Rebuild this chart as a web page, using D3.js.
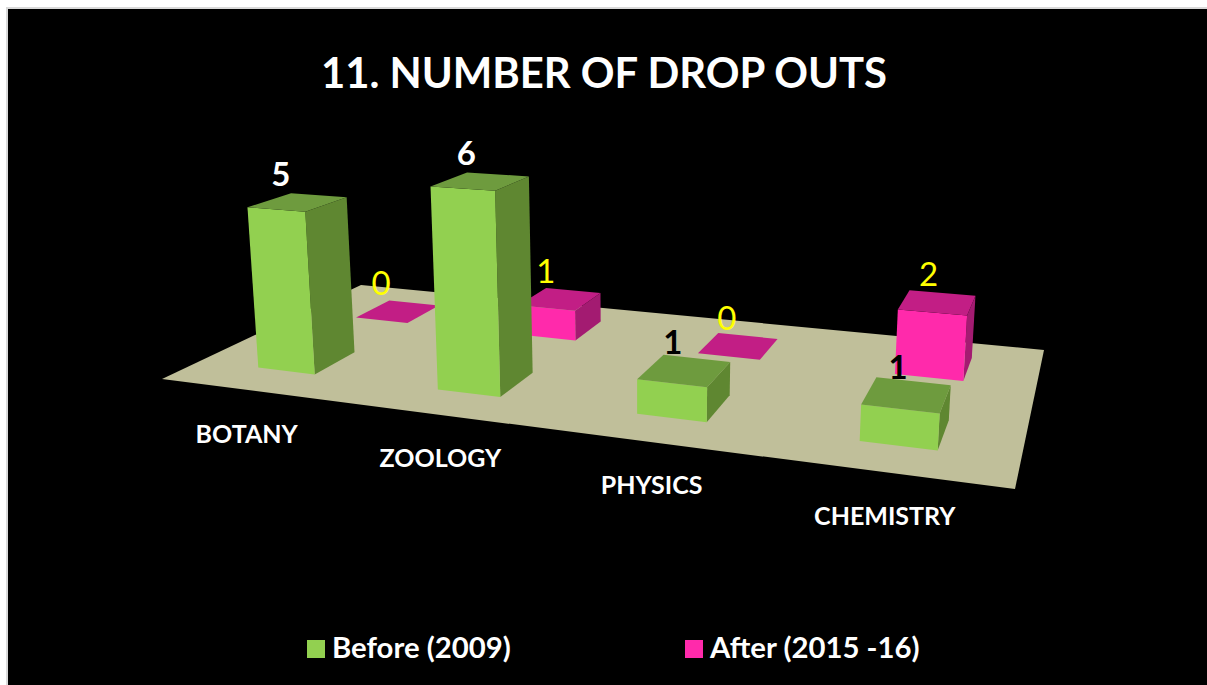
<!DOCTYPE html>
<html>
<head>
<meta charset="utf-8">
<title>11. NUMBER OF DROP OUTS</title>
<script src="https://cdnjs.cloudflare.com/ajax/libs/d3/7.8.5/d3.min.js"></script>
<style>
	html, body { margin: 0; padding: 0; background: #fff; }
	svg { display: block; }
	text { font-family: Lato, "Open Sans", sans-serif; }
</style>
</head>
<body>
<svg id="chart" width="1207" height="685"></svg>
<script>
'use strict'

const title = '11. NUMBER OF DROP OUTS'
const categories = ['BOTANY', 'ZOOLOGY', 'PHYSICS', 'CHEMISTRY']
const series = ['Before (2009)', 'After (2015 -16)']
const before = [5, 6, 1, 1]
const after = [0, 1, 0, 2]

const width = 1207
const height = 685

// floor corners on screen: front-left, front-right, back-right, back-left
const floor = [[162, 379], [1015, 489], [1044, 350], [361, 285]]

// the category labels do not follow the floor exactly
const labelNudge = [-2.5, 2.5, 3, -0.5]

const colors = {
	'Before (2009)': { front: '#92d050', top: '#6e9b3e', side: '#5f8731' },
	'After (2015 -16)': { front: '#ff2aab', top: '#c21e85', side: '#a31b71' }
}

const svg = d3.select('#chart')

// plane to quad mapping for the floor
function floorMatrix(q) {
	const [[x0, y0], [x1, y1], [x2, y2], [x3, y3]] = q
	const dx1 = x1 - x2, dx2 = x3 - x2, sx = x0 - x1 + x2 - x3
	const dy1 = y1 - y2, dy2 = y3 - y2, sy = y0 - y1 + y2 - y3
	const den = dx1 * dy2 - dx2 * dy1
	const g = (sx * dy2 - dx2 * sy) / den
	const h = (dx1 * sy - sx * dy1) / den
	return {
		a: x1 - x0 + g * x1, b: x3 - x0 + h * x3, c: x0,
		d: y1 - y0 + g * y1, e: y3 - y0 + h * y3, f: y0,
		g: g, h: h
	}
}

const m = floorMatrix(floor)

// verticals lean towards a vanishing point far below the chart
const vanish = { x: 640, y: 6000 }

function project(u, v, z) {
	const k = -z / vanish.y
	const w = m.g * u + m.h * v + 1 + k
	return [
		(m.a * u + m.b * v + m.c + k * vanish.x) / w,
		(m.d * u + m.e * v + m.f - z) / w
	]
}

const xScale = d3.scaleBand().domain(categories).range([0.001, 1.001]).paddingInner(0.675).paddingOuter(0.3375)
const depthScale = d3.scaleBand().domain(series).range([0.0125, 1.0125]).paddingInner(0.6).paddingOuter(0.3)
const heightScale = d3.scaleLinear().domain([0, 6]).range([0, 204])
const legendX = d3.scaleOrdinal().domain(series).range([307, 685])

const polygon = d3.line()

function face(g, points, fill) {
	g.append('path')
		.attr('d', polygon(points) + 'Z')
		.attr('fill', fill)
}

// background and title
svg.append('rect')
	.attr('x', 6).attr('y', 7)
	.attr('width', width - 6).attr('height', height - 7)
	.attr('fill', '#d9d9d9')

svg.append('rect')
	.attr('x', 8).attr('y', 9)
	.attr('width', width - 8).attr('height', height - 9)
	.attr('fill', '#000')

svg.append('text')
	.attr('x', 604).attr('y', 88)
	.attr('text-anchor', 'middle')
	.attr('font-size', 41.8)
	.attr('font-weight', 700)
	.attr('fill', '#fff')
	.text(title)

svg.append('path')
	.attr('d', polygon(floor) + 'Z')
	.attr('fill', '#c0bf9a')

// rows are painted back to front so the front row covers the back one
const rows = [
	{ name: series[1], values: after },
	{ name: series[0], values: before }
]

rows.forEach(row => {
	const g = svg.append('g').attr('class', 'series')
	const v0 = depthScale(row.name)
	const v1 = v0 + depthScale.bandwidth()
	const c = colors[row.name]

	categories.forEach((cat, i) => {
		const u0 = xScale(cat)
		const u1 = u0 + xScale.bandwidth()
		const z = heightScale(row.values[i])
		if (z > 0) {
			face(g, [project(u1, v0, 0), project(u1, v1, 0), project(u1, v1, z), project(u1, v0, z)], c.side)
			face(g, [project(u0, v0, 0), project(u1, v0, 0), project(u1, v0, z), project(u0, v0, z)], c.front)
		}
		face(g, [project(u0, v0, z), project(u1, v0, z), project(u1, v1, z), project(u0, v1, z)], c.top)
	})
})

// value labels sit on top of every bar
function valueColor(name, value) {
	if (name === series[1]) return '#ffff00'
	return value > 1 ? '#fff' : '#000'
}

rows.forEach(row => {
	const v = depthScale(row.name) + depthScale.bandwidth() / 2
	categories.forEach((cat, i) => {
		const u = xScale(cat) + xScale.bandwidth() / 2
		const p = project(u, v, heightScale(row.values[i]))
		svg.append('text')
			.attr('class', 'value')
			.attr('x', p[0] - 18.5 + 11 * u)
			.attr('y', p[1] - 16)
			.attr('text-anchor', 'middle')
			.attr('font-size', 33)
			.attr('font-weight', row.name === series[0] ? 700 : 400)
			.attr('fill', valueColor(row.name, row.values[i]))
			.text(row.values[i])
	})
})

// category labels hang under the front edge of the floor
categories.forEach((cat, i) => {
	const p = project(0.125 + 0.25 * i, 0, 0)
	svg.append('text')
		.attr('class', 'category')
		.attr('x', p[0] + labelNudge[i])
		.attr('y', p[1] + 52.5)
		.attr('text-anchor', 'middle')
		.attr('font-size', 25)
		.attr('font-weight', 700)
		.attr('fill', '#fff')
		.text(cat)
})

// legend
series.forEach(name => {
	const x = legendX(name)
	svg.append('rect')
		.attr('x', x).attr('y', 640)
		.attr('width', 18).attr('height', 18)
		.attr('fill', colors[name].front)
	svg.append('text')
		.attr('x', x + 25).attr('y', 658)
		.attr('font-size', 29.3)
		.attr('font-weight', 700)
		.attr('fill', '#fff')
		.text(name)
})
</script>
</body>
</html>
